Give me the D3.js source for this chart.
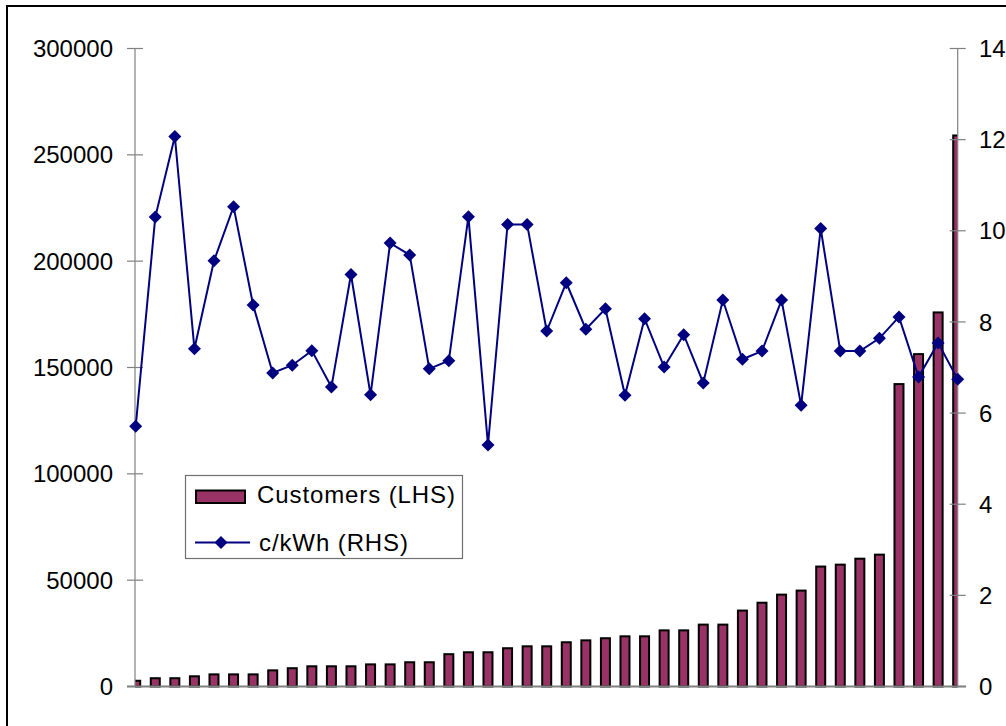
<!DOCTYPE html>
<html>
<head>
<meta charset="utf-8">
<script src="https://cdn.jsdelivr.net/npm/d3@7"></script>
<style>
  html, body { margin: 0; padding: 0; background: #fff; }
  svg { display: block; font-family: "Liberation Sans", Arial, sans-serif; }
</style>
</head>
<body>
<svg id="chart" width="1006" height="726"></svg>
<script>
// Distributors, ranked by customer numbers
const categories = d3.range(1, 44).map(String);

// Customer numbers (left axis)
const customers = [
  2700, 3900, 3900, 4800, 5700, 5700, 5700, 7600, 8600, 9500,
  9500, 9500, 10400, 10400, 11400, 11400, 15200, 16100, 16100, 18000,
  18900, 18900, 20800, 21700, 22700, 23600, 23600, 26400, 26400, 29100,
  29100, 35700, 39400, 43200, 45100, 56400, 57300, 60100, 62000, 142200,
  156300, 175900, 259100
];

// Average price, c/kWh (right axis)
const cPerKWh = [
  5.71, 10.30, 12.07, 7.41, 9.34, 10.53, 8.37, 6.88, 7.05, 7.37,
  6.57, 9.04, 6.40, 9.73, 9.47, 6.97, 7.15, 10.31, 5.30, 10.14,
  10.14, 7.80, 8.86, 7.84, 8.29, 6.39, 8.07, 7.01, 7.72, 6.66,
  8.48, 7.18, 7.36, 8.48, 6.17, 10.05, 7.36, 7.36, 7.64, 8.11,
  6.79, 7.54, 6.74
];

const leftTicks = [0, 50000, 100000, 150000, 200000, 250000, 300000];
const rightTicks = [0, 2, 4, 6, 8, 10, 12, 14];

const legendLabels = ["Customers (LHS)", "c/kWh (RHS)"];

const svg = d3.select("#chart");

const plot = { left: 135, right: 957.7, top: 48.5, bottom: 686.5 };

const x = d3.scalePoint().domain(categories).range([135.7, 957.7]);
const yL = d3.scaleLinear().domain([0, 300000]).range([plot.bottom, plot.top]);
const yR = d3.scaleLinear().domain([0, 14]).range([plot.bottom, plot.top]);

// outer chart frame
svg.append("rect")
  .attr("x", 7).attr("y", 6)
  .attr("width", 1100).attr("height", 800)
  .attr("fill", "none").attr("stroke", "#000").attr("stroke-width", 2);

// bars are clipped to the plot area
svg.append("defs").append("clipPath").attr("id", "plotClip")
  .append("rect")
  .attr("x", plot.left).attr("y", 0)
  .attr("width", plot.right - plot.left).attr("height", plot.bottom + 5);

const barW = 9;
svg.append("g").attr("clip-path", "url(#plotClip)")
  .selectAll("rect")
  .data(customers)
  .join("rect")
  .attr("x", (d, i) => x(categories[i]) - barW / 2)
  .attr("y", d => yL(d))
  .attr("width", barW)
  .attr("height", d => yL(0) - yL(d))
  .attr("fill", "#993366")
  .attr("stroke", "#000")
  .attr("stroke-width", 2);

// axis lines and cross ticks
const axisColor = "#808080";
function drawAxis(xPos, scale, ticks, labelX, anchor) {
  const g = svg.append("g");
  g.append("line")
    .attr("x1", xPos).attr("x2", xPos)
    .attr("y1", scale.range()[1]).attr("y2", scale.range()[0])
    .attr("stroke", axisColor).attr("stroke-width", 1.2);
  g.selectAll("line.tick")
    .data(ticks)
    .join("line")
    .attr("class", "tick")
    .attr("x1", xPos - 8).attr("x2", xPos + 8)
    .attr("y1", d => scale(d)).attr("y2", d => scale(d))
    .attr("stroke", axisColor).attr("stroke-width", 1.2);
  g.selectAll("text")
    .data(ticks)
    .join("text")
    .attr("x", labelX)
    .attr("y", d => scale(d))
    .attr("dy", "0.36em")
    .attr("text-anchor", anchor)
    .attr("font-size", 24)
    .attr("fill", "#000")
    .text(d => d);
}
drawAxis(plot.left, yL, leftTicks, 113, "end");
drawAxis(plot.right, yR, rightTicks, 979, "start");

// category baseline
svg.append("line")
  .attr("x1", 127).attr("x2", 966)
  .attr("y1", yL(0)).attr("y2", yL(0))
  .attr("stroke", axisColor).attr("stroke-width", 2);

// price line with diamond markers
const line = d3.line()
  .x((d, i) => x(categories[i]))
  .y(d => yR(d));

svg.append("path")
  .datum(cPerKWh)
  .attr("d", line)
  .attr("fill", "none")
  .attr("stroke", "#000080")
  .attr("stroke-width", 2);

const diamond = (cx, cy, r) =>
  `M${cx},${cy - r}L${cx + r},${cy}L${cx},${cy + r}L${cx - r},${cy}Z`;

svg.append("g")
  .selectAll("path")
  .data(cPerKWh)
  .join("path")
  .attr("d", (d, i) => diamond(x(categories[i]), yR(d), 6.5))
  .attr("fill", "#000080");

// legend
const lg = svg.append("g");
lg.append("rect")
  .attr("x", 185.5).attr("y", 475.5)
  .attr("width", 277).attr("height", 83)
  .attr("fill", "#fff")
  .attr("stroke", "#707070").attr("stroke-width", 1.2);
lg.append("rect")
  .attr("x", 196).attr("y", 490.5)
  .attr("width", 49).attr("height", 12.5)
  .attr("fill", "#993366")
  .attr("stroke", "#000").attr("stroke-width", 2);
lg.append("line")
  .attr("x1", 195).attr("x2", 250)
  .attr("y1", 542.5).attr("y2", 542.5)
  .attr("stroke", "#000080").attr("stroke-width", 2);
lg.append("path")
  .attr("d", diamond(221, 542.5, 6.5))
  .attr("fill", "#000080");
lg.selectAll("text")
  .data(legendLabels)
  .join("text")
  .attr("x", (d, i) => i === 0 ? 257 : 259)
  .attr("y", (d, i) => i === 0 ? 503 : 551)
  .attr("font-size", 24)
  .attr("letter-spacing", "0.9px")
  .attr("fill", "#000")
  .text(d => d);
</script>
</body>
</html>
